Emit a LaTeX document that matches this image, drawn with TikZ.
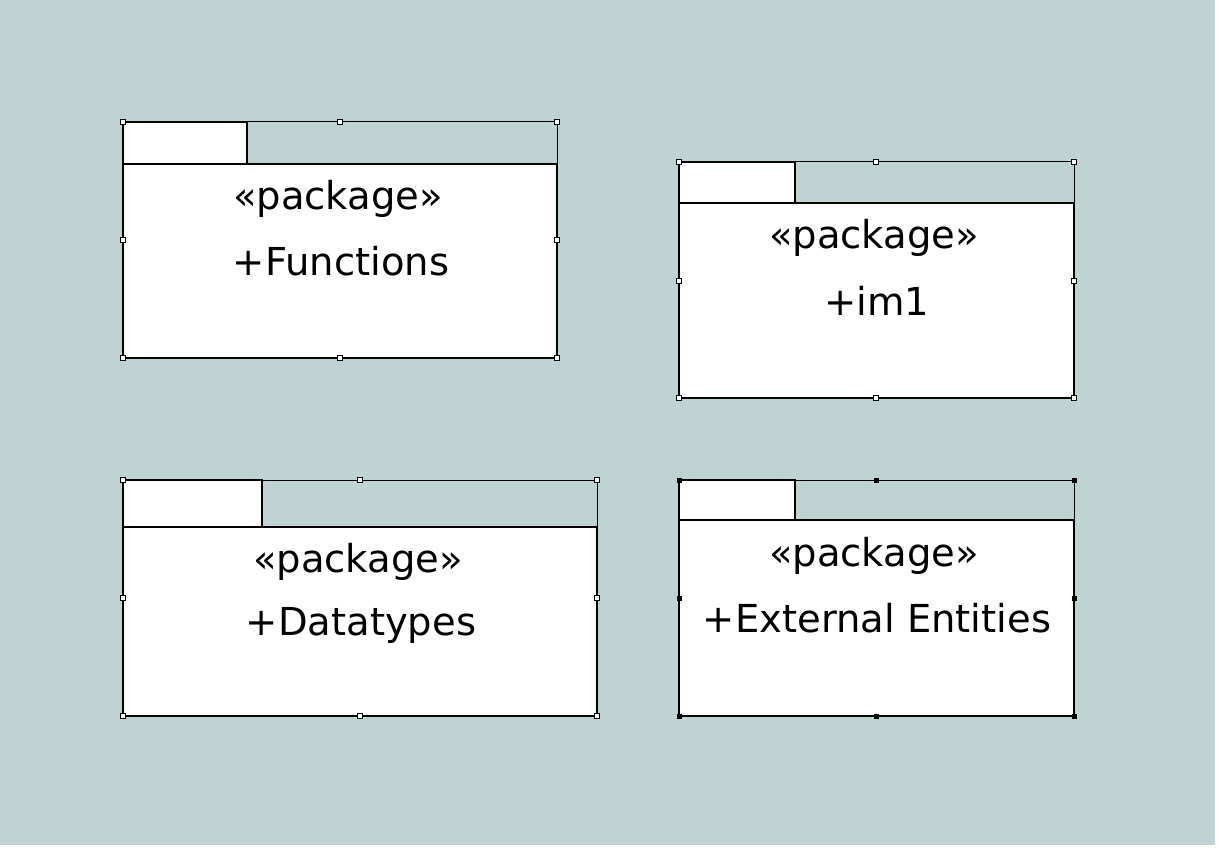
\documentclass[tikz,border=0pt]{standalone}
\usepackage{fontspec}
\setmainfont{DejaVu Sans}
\begin{document}
\begin{tikzpicture}[x=1pt,y=-1pt,
  pkgbody/.style={draw=black,fill=white,line width=2.8pt,rectangle,inner sep=0pt,outer sep=0pt,anchor=north west},
  pkgtab/.style={draw=black,fill=white,line width=2.2pt,rectangle,inner sep=0pt,outer sep=0pt,anchor=north west},
  selframe/.style={draw=black,line width=1pt},
  handle/.style={draw=black,fill=white,line width=0.6pt,rectangle,inner sep=0pt,outer sep=0pt,minimum size=5pt},
  handlesel/.style={handle,fill=black},
  pkglabel/.style={font=\fontsize{38.5}{41}\selectfont,anchor=base,inner sep=0pt}]
% canvas
\useasboundingbox (0,0) rectangle (1231,861);
\fill[white] (0,0) rectangle (1231,861);
\fill[fill={rgb,255:red,191;green,211;blue,210}] (0,0) rectangle (1215,845);

% package Functions
\node[pkgtab,minimum width=124pt,minimum height=42pt] (ftab) at (123,122) {};
\node[pkgbody,minimum width=434pt,minimum height=194pt] (fbody) at (123,164) {};
\draw[selframe] (ftab.north east) -- (fbody.east |- ftab.north) -- (fbody.north east);
\node[pkglabel] (fst) at (338,210) {«package»};
\node[pkglabel] (fname) at (341,275) {+Functions};
\foreach \p in {(123,122),(340,122),(557,122),(123,240),(557,240),(123,358),(340,358),(557,358)}
  \node[handle] at \p {};

% package im1
\node[pkgtab,minimum width=116pt,minimum height=41pt] (itab) at (679,162) {};
\node[pkgbody,minimum width=395pt,minimum height=195pt] (ibody) at (679,203) {};
\draw[selframe] (itab.north east) -- (ibody.east |- itab.north) -- (ibody.north east);
\node[pkglabel] (ist) at (874,248) {«package»};
\node[pkglabel] (iname) at (877,315) {+im1};
\foreach \p in {(679,162),(876,162),(1074,162),(679,281),(1074,281),(679,398),(876,398),(1074,398)}
  \node[handle] at \p {};

% package Datatypes
\node[pkgtab,minimum width=139pt,minimum height=47pt] (dtab) at (123,480) {};
\node[pkgbody,minimum width=474pt,minimum height=189pt] (dbody) at (123,527) {};
\draw[selframe] (dtab.north east) -- (dbody.east |- dtab.north) -- (dbody.north east);
\node[pkglabel] (dst) at (358,572) {«package»};
\node[pkglabel] (dname) at (361,635) {+Datatypes};
\foreach \p in {(123,480),(360,480),(597,480),(123,598),(597,598),(123,716),(360,716),(597,716)}
  \node[handle] at \p {};

% package External Entities (primary selection)
\node[pkgtab,minimum width=116pt,minimum height=40pt] (etab) at (679,480) {};
\node[pkgbody,minimum width=395pt,minimum height=196pt] (ebody) at (679,520) {};
\draw[selframe] (etab.north east) -- (ebody.east |- etab.north) -- (ebody.north east);
\node[pkglabel] (est) at (874,566) {«package»};
\node[pkglabel] (ename) at (877,632) {+External Entities};
\foreach \p in {(679,480),(876,480),(1074,480),(679,598),(1074,598),(679,716),(876,716),(1074,716)}
  \node[handlesel,minimum size=4pt] at \p {};
\end{tikzpicture}
\end{document}
